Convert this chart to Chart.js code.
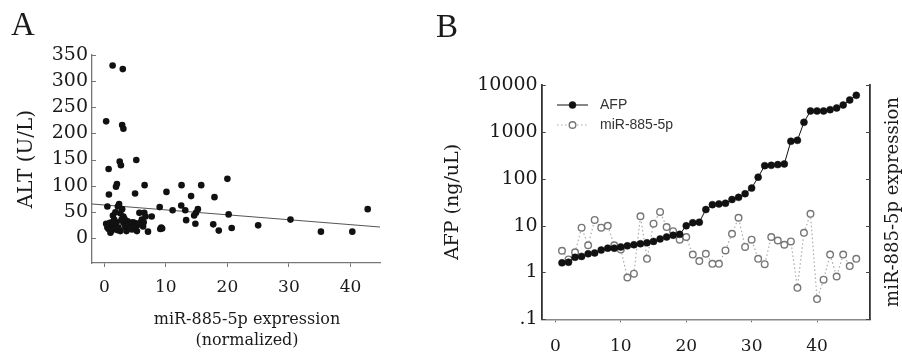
<!DOCTYPE html>
<html><head><meta charset="utf-8">
<script src="https://cdn.jsdelivr.net/npm/chart.js@4.4.1/dist/chart.umd.min.js"></script>
<style>
html,body{margin:0;padding:0;background:#fff;overflow:hidden}
#wrap{position:relative;width:902px;height:353px;background:#fff}
#cA{position:absolute;left:0;top:0}
#cB{position:absolute;left:420px;top:0}
</style></head><body>
<div id="wrap">
<canvas id="cA" width="420" height="353"></canvas>
<canvas id="cB" width="482" height="353"></canvas>
</div>
<script>
// ---------- Panel A data ----------
const altExpr = [1.35,3.0,0.3,2.9,3.1,0.7,2.5,2.7,5.2,0.75,2.05,1.9,5.0,6.55,10.1,12.55,14.1,15.75,17.9,20.0,
  0.5,9.0,11.1,12.5,13.15,15.2,14.9,14.6,20.2,13.3,14.8,17.7,18.6,20.7,25.0,30.25,35.2,40.3,42.8,9.25,9.1,9.4,7.1,7.7,
  2.4,2.2,1.4,0.3,0.7,0.9,1.1,0.7,1.0,1.2,1.5,1.8,1.6,2.0,2.3,2.6,2.6,2.9,3.1,3.1,3.3,3.4,3.6,3.8,4.0,4.2,4.5,4.6,4.9,5.3,5.0,5.7,5.8,6.1,6.3,6.5,6.7,6.4,2.1,1.3,3.6,4.3,5.5,2.8,1.9,0.5];
const altValues = [330,323,223,216,209,132,146,139,149,83,103,98,85,101,88,101,80,101,78,113,
  60,59,53,62,53,55,48,43,45,34,27,26,14,19,24,35,12,12,55,20,17,18,12,41,
  65,60,43,27,24,29,22,17,10,14,26,49,35,30,20,13,47,55,41,29,36,21,13,32,22,27,16,30,29,13,22,48,29,35,22,48,41,30,15,30,25,20,25,35,18,20];
const fitX = [-2, 44.8];
const fitY = [65, 21];
const xTicksA = [0,10,20,30,40];
const yTicksA = [0,50,100,150,200,250,300,350];

// ---------- Panel B data ----------
const caseIdx = [1,2,3,4,5,6,7,8,9,10,11,12,13,14,15,16,17,18,19,20,21,22,23,24,25,26,27,28,29,30,31,32,33,34,35,36,37,38,39,40,41,42,43,44,45,46];
const afpValues = [1.6,1.65,2.1,2.2,2.5,2.6,3.0,3.3,3.3,3.5,3.7,3.9,4.1,4.3,4.6,5.2,5.7,6.2,6.5,9.9,11.5,11.8,22,28,29,30,36,40,48,63,108,190,193,200,207,630,660,1600,2790,2790,2790,2980,3230,3740,4790,6020];
const mirValues = [2.9,1.9,2.7,9.0,3.8,13.2,9.0,9.9,3.8,3.1,0.78,0.94,15.8,1.95,11,19.6,9.3,7.6,5.0,5.7,2.4,1.75,2.5,1.53,1.53,2.95,6.7,14.7,3.5,5.0,1.95,1.5,5.7,4.8,3.9,4.6,0.47,7.0,17.8,0.27,0.70,2.4,0.82,2.4,1.37,1.95];
const xTicksB = [0,10,20,30,40];
const yTicksB = [0.1,1,10,100,1000,10000];
const yTickLabelsB = ['.1','1','10','100','1000','10000'];

// ---------- helpers ----------
const SERIF = '"DejaVu Serif", serif';
const TXT = '#1a1a1a';

const textPlugin = {
  id: 'texts',
  afterDraw(chart, args, opts) {
    const ctx = chart.ctx;
    (opts.items || []).forEach(it => {
      ctx.save();
      ctx.font = it.font;
      ctx.fillStyle = it.color || TXT;
      ctx.textAlign = it.align || 'center';
      ctx.textBaseline = it.baseline || 'middle';
      ctx.translate(it.x, it.y);
      if (it.rot) ctx.rotate(it.rot);
      ctx.fillText(it.text, 0, 0);
      ctx.restore();
    });
  }
};

const inwardTicks = {
  id: 'inwardTicks',
  afterDraw(chart, args, opts) {
    const ctx = chart.ctx;
    (opts.axes || []).forEach(a => {
      const s = chart.scales[a.id];
      ctx.save();
      ctx.strokeStyle = a.color;
      ctx.lineWidth = a.width;
      const left = s.position === 'left';
      const x0 = left ? chart.chartArea.left : chart.chartArea.right;
      const dir = left ? 1 : -1;
      s.ticks.forEach(t => {
        const p = Math.round(s.getPixelForValue(t.value)) + 0.5;
        ctx.beginPath();
        ctx.moveTo(x0, p);
        ctx.lineTo(x0 + dir * a.len, p);
        ctx.stroke();
      });
      ctx.restore();
    });
  }
};

const lineLegend = {
  id: 'lineLegend',
  afterDraw(chart, args, opts) {
    const ctx = chart.ctx;
    chart.data.datasets.forEach((ds, i) => {
      const y = opts.y + i * opts.gap;
      ctx.save();
      ctx.strokeStyle = ds.borderColor;
      ctx.lineWidth = ds.borderWidth;
      ctx.setLineDash(ds.borderDash || []);
      ctx.beginPath();
      ctx.moveTo(opts.x, y);
      ctx.lineTo(opts.x + opts.len, y);
      ctx.stroke();
      ctx.setLineDash([]);
      ctx.fillStyle = ds.pointBackgroundColor;
      ctx.strokeStyle = ds.pointBorderColor;
      ctx.lineWidth = ds.pointBorderWidth;
      Chart.helpers.drawPoint(ctx, {pointStyle: 'circle', radius: ds.pointRadius, borderWidth: ds.pointBorderWidth}, opts.x + opts.len / 2, y);
      ctx.font = opts.font;
      ctx.fillStyle = opts.color;
      ctx.textAlign = 'left';
      ctx.textBaseline = 'middle';
      ctx.fillText(ds.label, opts.textX, y);
      ctx.restore();
    });
  }
};

// ---------- Chart A ----------
new Chart(document.getElementById('cA'), {
  type: 'scatter',
  data: {
    datasets: [
      {
        label: 'ALT',
        data: altExpr.map((x, i) => ({x, y: altValues[i]})),
        pointRadius: 3.3,
        pointBackgroundColor: '#111',
        pointBorderWidth: 0,
        backgroundColor: '#111'
      },
      {
        type: 'line',
        label: 'fit',
        data: fitX.map((x, i) => ({x, y: fitY[i]})),
        borderColor: '#555',
        borderWidth: 1.1,
        pointRadius: 0,
        showLine: true,
        fill: false
      }
    ]
  },
  options: {
    responsive: false,
    animation: false,
    layout: {padding: {top: 55, right: 40, left: 0, bottom: 0}},
    plugins: {
      legend: {display: false},
      tooltip: {enabled: false},
      texts: {items: [
        {text: 'A', x: 11, y: 35, font: '33px "Liberation Serif", serif', align: 'left', baseline: 'alphabetic'},
        {text: 'ALT (U/L)', x: 27, y: 159, rot: -Math.PI / 2, font: '20px ' + SERIF},
        {text: 'miR-885-5p expression', x: 247, y: 320, font: '16px ' + SERIF},
        {text: '(normalized)', x: 247, y: 341, font: '16px ' + SERIF}
      ]},
      inwardTicks: {axes: [{id: 'y', len: 4, color: '#777', width: 1}]}
    },
    scales: {
      x: {
        type: 'linear', position: 'bottom', min: -2, max: 44.8,
        afterBuildTicks: s => { s.ticks = xTicksA.map(v => ({value: v})); },
        afterFit: s => { s.height = 90; },
        grid: {drawOnChartArea: false, drawTicks: true, tickLength: 4, color: '#777'},
        border: {display: true, color: '#777', width: 1.3},
        ticks: {font: {family: SERIF, size: 17}, color: TXT, padding: 10, maxRotation: 0, autoSkip: false}
      },
      y: {
        type: 'linear', position: 'left', min: -48, max: 350,
        afterBuildTicks: s => { s.ticks = yTicksA.map(v => ({value: v})); },
        afterFit: s => { s.width = 92; },
        grid: {drawOnChartArea: false, drawTicks: false},
        border: {display: true, color: '#777', width: 1.3},
        ticks: {font: {family: SERIF, size: 19}, color: TXT, padding: 4, autoSkip: false}
      }
    }
  },
  plugins: [textPlugin, inwardTicks]
});

// ---------- Chart B ----------
new Chart(document.getElementById('cB'), {
  type: 'line',
  data: {
    datasets: [
      {
        label: 'AFP',
        data: caseIdx.map((x, i) => ({x, y: afpValues[i]})),
        borderColor: '#111',
        borderWidth: 1,
        pointRadius: 3.5,
        pointBackgroundColor: '#111',
        pointBorderColor: '#111',
        pointBorderWidth: 0.5,
        tension: 0,
        fill: false
      },
      {
        label: 'miR-885-5p',
        data: caseIdx.map((x, i) => ({x, y: mirValues[i]})),
        borderColor: '#aaa',
        borderWidth: 1.2,
        borderDash: [1.5, 2.5],
        pointRadius: 3.3,
        pointBackgroundColor: '#fff',
        pointBorderColor: '#777',
        pointBorderWidth: 1.4,
        tension: 0,
        fill: false
      }
    ]
  },
  options: {
    responsive: false,
    animation: false,
    layout: {padding: {top: 85, right: 0, left: 0, bottom: 0}},
    plugins: {
      legend: {display: false},
      tooltip: {enabled: false},
      texts: {items: [
        {text: 'B', x: 16, y: 37, font: '33px "Liberation Serif", serif', align: 'left', baseline: 'alphabetic'},
        {text: 'AFP (ng/uL)', x: 33, y: 202, rot: -Math.PI / 2, font: '19px ' + SERIF},
        {text: 'miR-885-5p expression', x: 473, y: 202, rot: -Math.PI / 2, font: '18px ' + SERIF}
      ]},
      inwardTicks: {axes: [
        {id: 'y', len: 4, color: '#444', width: 1},
        {id: 'y2', len: 4, color: '#444', width: 1}
      ]},
      lineLegend: {x: 137, y: 105, gap: 20, len: 31, textX: 180, font: '14px "Liberation Sans", Arial, sans-serif', color: '#333'}
    },
    scales: {
      x: {
        type: 'linear', position: 'bottom', min: -2.1, max: 48.1,
        afterBuildTicks: s => { s.ticks = xTicksB.map(v => ({value: v})); },
        afterFit: s => { s.height = 33.7; },
        grid: {drawOnChartArea: false, drawTicks: true, tickLength: 3, color: '#666'},
        border: {display: true, color: '#888', width: 1.6, dash: [1.6, 5.4]},
        ticks: {font: {family: SERIF, size: 17}, color: TXT, padding: 14, maxRotation: 0, autoSkip: false}
      },
      y: {
        type: 'logarithmic', position: 'left', min: 0.1, max: 10000,
        afterBuildTicks: s => { s.ticks = yTicksB.map(v => ({value: v})); },
        afterFit: s => { s.width = 121.7; },
        grid: {drawOnChartArea: false, drawTicks: false},
        border: {display: true, color: '#333', width: 1.8},
        ticks: {font: {family: SERIF, size: 19}, color: TXT, padding: 4, autoSkip: false,
          callback: (v, i) => yTickLabelsB[i]}
      },
      y2: {
        type: 'logarithmic', position: 'right', min: 0.1, max: 10000,
        afterBuildTicks: s => { s.ticks = yTicksB.map(v => ({value: v})); },
        afterFit: s => { s.width = 32; },
        grid: {drawOnChartArea: false, drawTicks: false},
        border: {display: true, color: '#333', width: 1.8},
        ticks: {display: false}
      }
    }
  },
  plugins: [textPlugin, inwardTicks, lineLegend]
});
</script>
</body></html>
